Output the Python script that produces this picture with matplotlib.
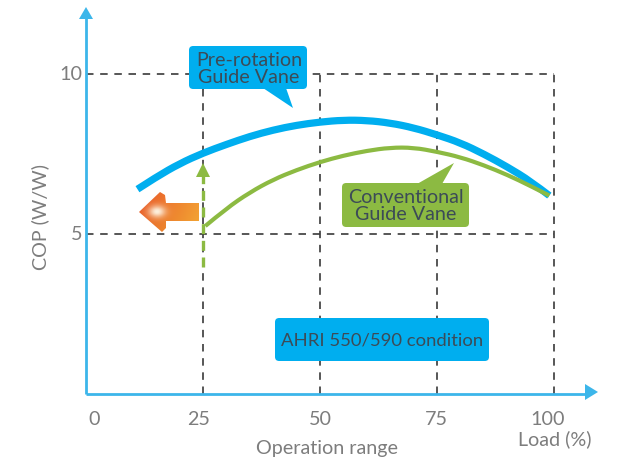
import numpy as np
import matplotlib
matplotlib.use("Agg")
import matplotlib.pyplot as plt
from matplotlib.patches import Polygon, FancyBboxPatch, PathPatch
from matplotlib.path import Path

plt.rcParams['font.family'] = ['Lato', 'DejaVu Sans']

# ---- data -------------------------------------------------------------
load_ticks = [0, 25, 50, 75, 100]
load_tick_labels = ["0", "25", "50", "75", "100"]
cop_ticks = [5, 10]
cop_tick_labels = ["5", "10"]

prerot_load = [11, 15, 20, 25, 30, 35, 40, 45, 50, 55, 60, 65, 70, 75, 80, 85, 90, 95, 99]
prerot_cop = [6.40, 6.78, 7.20, 7.53, 7.80, 8.05, 8.25, 8.40, 8.50, 8.56, 8.55,
              8.47, 8.32, 8.10, 7.85, 7.50, 7.10, 6.65, 6.20]

conv_load = [25.5, 30, 35, 40, 45, 50, 55, 60, 65, 70, 75, 80, 85, 90, 95, 99]
conv_cop = [5.25, 5.80, 6.30, 6.70, 7.00, 7.25, 7.45, 7.60, 7.70, 7.70, 7.57,
            7.40, 7.15, 6.85, 6.50, 6.20]

min_load = 25  # lower end of the conventional operating range

# ---- styling ----------------------------------------------------------
BLUE = "#00aeef"
GREEN = "#8cba42"
AXIS = "#3cb6ea"
GRID = "#3a3a3a"
LABEL = "#7d7d7d"
BOXTEXT = "#3c4b57"
FS = 14.2

W, H = 620, 464
X0, XS = 86, 4.68     # pixel of load 0, pixels per % load
Y0, YS = 395, 32      # pixel of COP 0, pixels per COP unit


def px(x, y):
    """Figure pixel (from top-left) -> data coordinates."""
    return ((x - X0) / XS, (Y0 - y) / YS)


def smooth_path(xs, ys):
    """Chain of quadratic Bezier segments through the midpoints of the points."""
    pts = np.column_stack([xs, ys])
    verts = [pts[0]]
    codes = [Path.MOVETO]
    for i in range(1, len(pts) - 1):
        mid = (pts[i] + pts[i + 1]) / 2 if i < len(pts) - 2 else pts[i + 1]
        verts += [pts[i], mid]
        codes += [Path.CURVE3, Path.CURVE3]
    return Path(verts, codes)


fig = plt.figure(figsize=(W / 100, H / 100), dpi=100)
ax = fig.add_axes([0, 0, 1, 1])
ax.set_xlim(px(0, 0)[0], px(W, 0)[0])
ax.set_ylim(px(0, H)[1], px(0, 0)[1])
ax.axis("off")

# dashed reference grid
for v in cop_ticks:
    ax.plot([0, 100], [v, v], color=GRID, lw=1.2, dashes=(4.5, 4), zorder=1)
for v in load_ticks[1:]:
    ax.plot([v, v], [0, 10], color=GRID, lw=1.2, dashes=(4.5, 4), zorder=1)

# axes with arrow heads
ax.plot([0, 0], [0, px(0, 18)[1]], color=AXIS, lw=2, solid_capstyle="butt", zorder=2)
ax.plot([0, px(586, 0)[0]], [0, 0], color=AXIS, lw=2, solid_capstyle="butt", zorder=2)
ax.add_patch(Polygon([px(79, 20), px(93, 20), px(86, 8)], closed=True,
                     color=AXIS, lw=0, zorder=3))
ax.add_patch(Polygon([px(585, 385), px(585, 401), px(598, 393)], closed=True,
                     color=AXIS, lw=0, zorder=3))

# tick labels
label_dx = [8, -4, 0, -1, -6]
for v, t, dx in zip(load_ticks, load_tick_labels, label_dx):
    ax.annotate(t, (v, 0), xytext=(dx, -25), textcoords="offset pixels",
                ha="center", va="center", fontsize=FS, color=LABEL)
for v, t in zip(cop_ticks, cop_tick_labels):
    ax.annotate(t, (0, v), xytext=(-4, 0), textcoords="offset pixels",
                ha="right", va="center", fontsize=FS, color=LABEL)

ax.text(*px(327, 449), "Operation range", ha="center", va="center",
        fontsize=FS, color=LABEL)
ax.text(*px(555, 439), "Load (%)", ha="center", va="center",
        fontsize=FS, color=LABEL)
ax.text(*px(40, 217), "COP (W/W)", ha="center", va="center", rotation=90,
        fontsize=FS, color=LABEL)

# performance curves
ax.add_patch(PathPatch(smooth_path(prerot_load, prerot_cop), facecolor="none",
                       edgecolor=BLUE, lw=5.2, capstyle="butt", zorder=4))
ax.add_patch(PathPatch(smooth_path(conv_load, conv_cop), facecolor="none",
                       edgecolor=GREEN, lw=3.0, capstyle="butt", zorder=5))

# green dashed arrow marking the extension of the range
yb = px(0, 268)[1]
yt = px(0, 176)[1]
ax.plot([min_load, min_load], [yb, yt], color=GREEN, lw=2.4, dashes=(3, 2), zorder=5)
ax.add_patch(Polygon([px(196, 178), px(210, 178), px(203, 164)], closed=True,
                     color=GREEN, lw=0, zorder=6))

# orange gradient arrow pointing towards lower load
arrow_px = [(139, 213), (160, 193), (165, 196), (166, 204), (199, 204),
            (199, 222), (166, 222), (166, 229), (162, 233)]
arrow = Polygon([px(*p) for p in arrow_px], closed=True, facecolor="none",
                edgecolor="none", zorder=6)
ax.add_patch(arrow)
nx, ny = 80, 50
gx = np.linspace(0, 1, nx)[None, :]
gy = np.linspace(0, 1, ny)[:, None]
left = np.array([0.91, 0.42, 0.16])
right = np.array([0.95, 0.66, 0.20])
img = left[None, None, :] * (1 - gx[..., None]) + right[None, None, :] * gx[..., None]
img = img * np.ones((ny, 1, 1))
# warmer upper edge on the shaft
img[..., 1] -= 0.08 * (1 - gy) * np.ones((1, nx))
# soft white highlight near the head
cx, cy = 0.3, 0.5
r2 = ((gx - cx) / 0.2) ** 2 + ((gy - cy) / 0.2) ** 2
glow = 0.9 * np.exp(-r2 * 2.0)[..., None]
img = img * (1 - glow) + glow * np.array([1, 1, 0.95])
img = np.clip(img, 0, 1)
ex0, ey0 = px(139, 234)
ex1, ey1 = px(199, 192)
im = ax.imshow(img, extent=[ex0, ex1, ey0, ey1], origin="upper",
               aspect="auto", zorder=6, interpolation="bilinear")
im.set_clip_path(arrow)


def callout(x0, y0, x1, y1, color, text, tail=None, tcx=None, tcy=None, fs=FS):
    """Rounded label box (pixel corners) with optional pointer polygon."""
    (dx0, dy1) = px(x0, y1)
    (dx1, dy0) = px(x1, y0)
    box = FancyBboxPatch((dx0, dy1), dx1 - dx0, dy0 - dy1,
                         boxstyle="round,pad=0,rounding_size=0.9",
                         mutation_aspect=1 / 7.0,
                         facecolor=color, edgecolor="none", zorder=7)
    ax.add_patch(box)
    if tail is not None:
        ax.add_patch(Polygon([px(*p) for p in tail], closed=True,
                             facecolor=color, edgecolor="none", zorder=7))
    ax.text(*px(tcx, tcy), text, ha="center", va="center", fontsize=fs,
            color=BOXTEXT, linespacing=0.95, zorder=8)


callout(189, 47, 307, 90, BLUE, "Pre-rotation\nGuide Vane",
        tail=[(263, 89), (286, 89), (293, 109)], tcx=249, tcy=69)
callout(342, 184, 469, 228, GREEN, "Conventional\nGuide Vane",
        tail=[(417, 185), (442, 185), (454, 164)], tcx=406, tcy=206)
callout(275, 319, 489, 362, BLUE, "AHRI 550/590 condition", tcx=382, tcy=341,
        fs=13.3)

fig.savefig("out.png", dpi=100)
